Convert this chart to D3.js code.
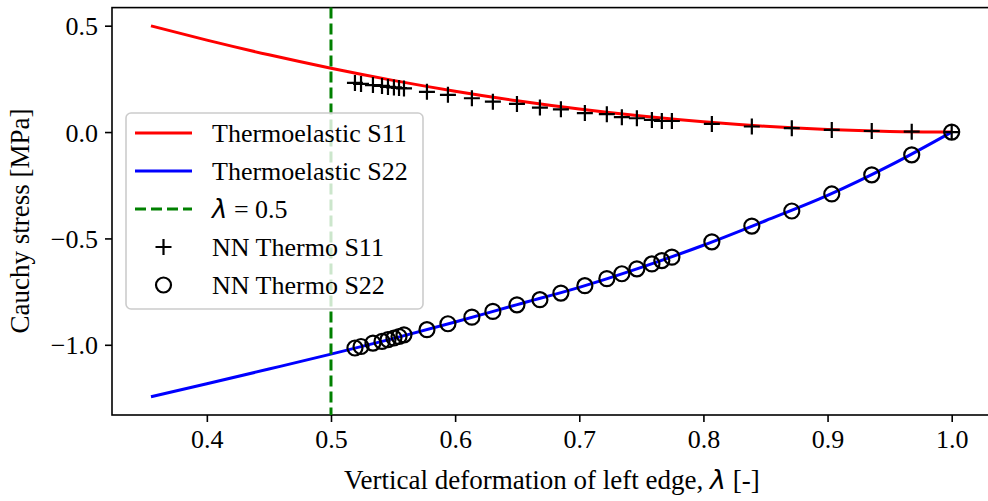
<!DOCTYPE html>
<html>
<head>
<meta charset="utf-8">
<script src="https://cdn.jsdelivr.net/npm/d3@7"></script>
<style>
  body { margin: 0; background: #fff; }
  svg text { font-family: "Liberation Serif", "Times New Roman", serif; fill: #000; }
  .axis path, .axis line { stroke: #000; stroke-width: 1.6; }
</style>
</head>
<body>
<div id="chart"></div>
<script>
// curve samples (lambda grid)
var lam   = [0.355, 0.4, 0.45, 0.5, 0.55, 0.6, 0.65, 0.7, 0.75, 0.8, 0.85, 0.9, 0.95, 1.0];
var s11   = [0.499, 0.432, 0.363, 0.300, 0.243, 0.192, 0.147, 0.108, 0.075, 0.048, 0.027, 0.012, 0.003, 0.0];
var s22   = [-1.244, -1.183, -1.114, -1.044, -0.971, -0.893, -0.811, -0.730, -0.636, -0.532, -0.417, -0.298, -0.158, 0.0];

// NN points
var nnLam = [0.5193, 0.5242, 0.5338, 0.5411, 0.5459, 0.5507, 0.5548, 0.5588, 0.5773, 0.5942,
             0.6135, 0.6304, 0.6498, 0.6683, 0.6852, 0.7045, 0.7222, 0.7343, 0.7464, 0.7585,
             0.7665, 0.7746, 0.8068, 0.8390, 0.8712, 0.9034, 0.9356, 0.9678, 1.0];
var nnS11 = [0.231, 0.226, 0.221, 0.217, 0.212, 0.210, 0.207, 0.205, 0.189, 0.175,
             0.159, 0.143, 0.132, 0.115, 0.107, 0.089, 0.084, 0.070, 0.065, 0.057,
             0.052, 0.052, 0.038, 0.026, 0.018, 0.010, 0.005, 0.002, 0.0];
var nnS22 = [-1.015, -1.008, -0.992, -0.984, -0.976, -0.968, -0.961, -0.953, -0.929, -0.901,
             -0.870, -0.843, -0.812, -0.788, -0.757, -0.722, -0.689, -0.666, -0.643, -0.620,
             -0.604, -0.588, -0.516, -0.442, -0.371, -0.291, -0.201, -0.107, 0.0];

var xTicks = [0.4, 0.5, 0.6, 0.7, 0.8, 0.9, 1.0];
var yTicks = [0.5, 0.0, -0.5, -1.0];
var lamLine = 0.5;

var W = 988, H = 501;
var margin = {left: 112, right: 991.8, top: 7.6, bottom: 415};

var svg = d3.select("#chart").append("svg")
    .attr("width", W)
    .attr("height", H);

var x = d3.scaleLinear().domain([0.3236, 1.0323]).range([margin.left, margin.right]);
var y = d3.scaleLinear().domain([-1.33, 0.585]).range([margin.bottom, margin.top]);

var fmt = function(d) { return d3.format(".1f")(d).replace("-", "\u2212"); };

var fs = 26;

// axes
var xAxis = d3.axisBottom(x).tickValues(xTicks).tickFormat(fmt).tickSize(7).tickPadding(8);
var yAxis = d3.axisLeft(y).tickValues(yTicks).tickFormat(fmt).tickSize(7).tickPadding(7);

// frame
svg.append("rect")
    .attr("x", margin.left).attr("y", margin.top)
    .attr("width", margin.right - margin.left).attr("height", margin.bottom - margin.top)
    .attr("fill", "none").attr("stroke", "#000").attr("stroke-width", 1.6);

var line = d3.line().curve(d3.curveMonotoneX);

var redPts = lam.map(function(l, i) { return [x(l), y(s11[i])]; });
var bluePts = lam.map(function(l, i) { return [x(l), y(s22[i])]; });

svg.append("path").attr("d", line(redPts))
    .attr("fill", "none").attr("stroke", "#ff0000").attr("stroke-width", 3);
svg.append("path").attr("d", line(bluePts))
    .attr("fill", "none").attr("stroke", "#0000ff").attr("stroke-width", 3);

svg.append("line")
    .attr("x1", x(lamLine)).attr("x2", x(lamLine))
    .attr("y1", margin.top).attr("y2", margin.bottom)
    .attr("stroke", "#008000").attr("stroke-width", 3)
    .attr("stroke-dasharray", "11,5");

// NN S11 plus markers
var ps = 8;
svg.selectAll(".plus")
    .data(nnLam)
    .enter().append("path")
    .attr("class", "plus")
    .attr("d", function(d, i) {
        var cx = x(d), cy = y(nnS11[i]);
        return "M" + (cx - ps) + "," + cy + "h" + (2 * ps) + "M" + cx + "," + (cy - ps) + "v" + (2 * ps);
    })
    .attr("stroke", "#000").attr("stroke-width", 2.2).attr("fill", "none");

// NN S22 circles
svg.selectAll(".circ")
    .data(nnLam)
    .enter().append("circle")
    .attr("class", "circ")
    .attr("cx", function(d) { return x(d); })
    .attr("cy", function(d, i) { return y(nnS22[i]); })
    .attr("r", 7.5)
    .attr("fill", "none").attr("stroke", "#000").attr("stroke-width", 2.2);

var gx = svg.append("g")
    .attr("class", "x axis")
    .attr("transform", "translate(0," + margin.bottom + ")")
    .call(xAxis);
gx.select(".domain").remove();
gx.selectAll("text").style("font-size", fs + "px");

var gy = svg.append("g")
    .attr("class", "y axis")
    .attr("transform", "translate(" + margin.left + ",0)")
    .call(yAxis);
gy.select(".domain").remove();
gy.selectAll("text").style("font-size", fs + "px").attr("dy", "0.35em");

// axis labels
var xl = svg.append("text")
    .attr("x", (margin.left + margin.right) / 2)
    .attr("y", 489)
    .style("text-anchor", "middle")
    .style("font-size", "27px");
xl.append("tspan").text("Vertical deformation of left edge, ");
xl.append("tspan").style("font-family", "DejaVu Sans").style("font-style", "italic").text("\u03bb");
xl.append("tspan").text(" [-]");

svg.append("text")
    .attr("transform", "rotate(-90)")
    .attr("x", -221)
    .attr("y", 29)
    .style("text-anchor", "middle")
    .style("font-size", "27px")
    .text("Cauchy stress [MPa]");

// legend
var lg = svg.append("g").attr("transform", "translate(126,113)");
lg.append("rect")
    .attr("width", 297).attr("height", 196)
    .attr("rx", 5).attr("ry", 5)
    .attr("fill", "#fff").attr("fill-opacity", 0.8)
    .attr("stroke", "#cccccc").attr("stroke-width", 1.6);

var items = [
    {label: "Thermoelastic S11", kind: "line", color: "#ff0000"},
    {label: "Thermoelastic S22", kind: "line", color: "#0000ff"},
    {label: "= 0.5", kind: "dash", color: "#008000"},
    {label: "NN Thermo S11", kind: "plus"},
    {label: "NN Thermo S22", kind: "circle"}
];

items.forEach(function(it, i) {
    var cy = 20 + i * 38;
    if (it.kind == "line" || it.kind == "dash") {
        lg.append("line")
            .attr("x1", 9).attr("x2", 66).attr("y1", cy).attr("y2", cy)
            .attr("stroke", it.color).attr("stroke-width", 3)
            .attr("stroke-dasharray", it.kind == "dash" ? "11,5" : null);
    } else if (it.kind == "plus") {
        lg.append("path")
            .attr("d", "M" + (37.5 - ps) + "," + cy + "h" + (2 * ps) + "M37.5," + (cy - ps) + "v" + (2 * ps))
            .attr("stroke", "#000").attr("stroke-width", 2.2);
    } else {
        lg.append("circle").attr("cx", 37.5).attr("cy", cy).attr("r", 7.5)
            .attr("fill", "none").attr("stroke", "#000").attr("stroke-width", 2.2);
    }
    var t = lg.append("text")
        .attr("x", 86).attr("y", cy + 9)
        .style("font-size", fs + "px");
    if (it.kind == "dash") {
        t.append("tspan").style("font-family", "DejaVu Sans").style("font-style", "italic").text("\u03bb");
        t.append("tspan").text(" " + it.label);
    } else {
        t.text(it.label);
    }
});
</script>
</body>
</html>
